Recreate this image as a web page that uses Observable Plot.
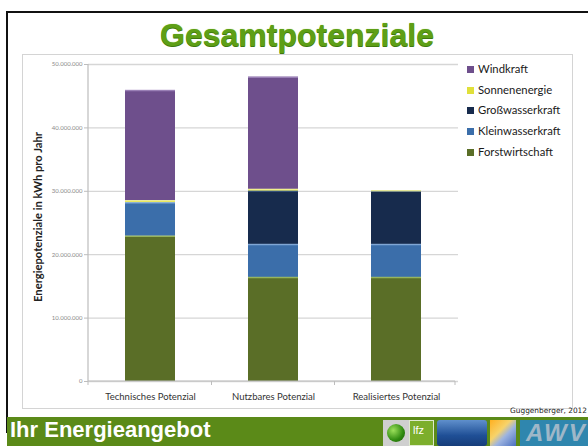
<!DOCTYPE html>
<html><head><meta charset="utf-8">
<script src="https://cdn.jsdelivr.net/npm/d3@7"></script>
<script src="https://cdn.jsdelivr.net/npm/@observablehq/plot@0.6"></script>
<style>
html,body{margin:0;padding:0;background:#fff;}
#slide{position:relative;width:588px;height:446px;overflow:hidden;background:#fff;font-family:Lato,"Open Sans",sans-serif;}
#frame{position:absolute;left:6px;top:11px;width:600px;height:420px;border-top:2px solid #111;border-left:2px solid #111;}
#box{position:absolute;left:22px;top:54px;width:549px;height:353px;border:1px solid #d4d4d4;}
#chart{position:absolute;left:0;top:0;}
#title{position:absolute;left:0;top:19px;width:594px;text-align:center;font:bold 32px "Liberation Sans",Arial,sans-serif;line-height:32px;color:#5e9f16;text-shadow:0 1px 0 #3f7a0c, 0 0 1px #8cc43c;}
#ylabel{position:absolute;left:-72px;top:210px;width:220px;height:14px;line-height:14px;text-align:center;font-weight:bold;font-size:11.2px;color:#222;transform:rotate(-90deg);}
#legend{position:absolute;left:467px;top:62px;}
.li{position:absolute;left:0;height:14px;width:120px;font-size:11.3px;line-height:14px;color:#1a1a1a;white-space:nowrap;}
.sw{display:inline-block;width:7px;height:7px;margin-right:4px;vertical-align:0px;}
#credit{position:absolute;right:1px;top:406px;font:7.4px "DejaVu Sans",sans-serif;color:#222;white-space:nowrap;text-align:right;}
#banner{position:absolute;left:7px;top:417px;width:581px;height:29px;background:#5b8a18;}
#btext{position:absolute;left:10px;top:419px;font:bold 22px "Liberation Sans",Arial,sans-serif;line-height:22px;color:#fff;}
.logo{position:absolute;top:420px;height:26px;}
</style></head><body>
<div id="slide">
  <div id="frame"></div>
  <div id="box"></div>
  <div id="chart"></div>
  <div id="title">Gesamtpotenziale</div>
  <div id="ylabel">Energiepotenziale in kWh pro Jahr</div>
  <div id="legend"></div>
  <div id="credit">Guggenberger, 2012</div>
  <div id="banner"></div>
  <div id="btext">Ihr Energieangebot</div>
  <div class="logo" style="left:383px;width:26px;background:#cfcfcf;"><div style="position:absolute;left:4px;top:4px;width:18px;height:18px;border-radius:50%;background:radial-gradient(circle at 35% 35%,#9be05a,#2f8a10 60%,#1d5a08);"></div></div>
  <div class="logo" style="left:409px;width:25px;background:#7cae2c;border:1px solid #dfe9cf;box-sizing:border-box;color:#fff;font:11px 'Liberation Sans',sans-serif;padding:3px 0 0 3px;">lfz</div>
  <div class="logo" style="left:437px;width:50px;border-radius:3px;background:linear-gradient(#5f8fcc,#1f4f96 60%,#173d7a);"></div>
  <div class="logo" style="left:490px;width:26px;background:linear-gradient(135deg,#ffb020,#f7d36a 40%,#9db4e0 60%,#4a6fc0);"></div>
  <div class="logo" style="left:520px;width:68px;background:#2f86ae;color:#9fb7c8;font:italic bold 24px 'Liberation Sans',sans-serif;line-height:26px;padding-left:6px;box-sizing:border-box;letter-spacing:2px;">AWV</div>
</div>
<script>
// ---- data ----
const categories = ["Technisches Potenzial", "Nutzbares Potenzial", "Realisiertes Potenzial"];
const seriesNames = ["Forstwirtschaft", "Kleinwasserkraft", "Großwasserkraft", "Sonnenenergie", "Windkraft"];
const forstwirtschaft = [22900000, 16400000, 16400000];
const kleinwasserkraft = [5300000, 5200000, 5200000];
const grosswasserkraft = [0, 8400000, 8400000];
const sonnenenergie = [300000, 300000, 100000];
const windkraft = [17400000, 17700000, 0];
const yTicks = [0, 10000000, 20000000, 30000000, 40000000, 50000000];
const seriesColors = ["#5a6e27", "#3b6eaa", "#172b4d", "#e0e03a", "#6e4f8c"];
const seriesHighlights = ["#a6c66a", "#8fb4e0", "#3b5a86", "#f5f5a0", "#a58cc0"];

const valuesBySeries = [forstwirtschaft, kleinwasserkraft, grosswasserkraft, sonnenenergie, windkraft];
const table = [];
seriesNames.forEach((s, si) => categories.forEach((c, ci) => {
  const v = valuesBySeries[si][ci];
  if (v > 0) table.push({category: c, series: s, value: v});
}));

const fmt = d => d3.format(",")(d).replace(/,/g, ".");

function axisLines(index, scales, values, dims) {
  const g = d3.create("svg:g");
  const y0 = scales.y(0), yTop = scales.y(yTicks[yTicks.length - 1]);
  const x0 = dims.marginLeft, x1 = dims.width - dims.marginRight;
  const bw = scales.x.bandwidth ? scales.x.bandwidth() : 0;
  const centers = categories.map(c => scales.x(c) + bw / 2);
  const bounds = [x0];
  for (let i = 0; i < centers.length - 1; i++) bounds.push((centers[i] + centers[i + 1]) / 2);
  bounds.push(x1 - 3);
  g.append("line").attr("x1", x0).attr("x2", x0).attr("y1", yTop).attr("y2", y0).attr("stroke", "#bdbdbd").attr("stroke-width", 1.2);
  g.append("line").attr("x1", x0).attr("x2", x1 - 3).attr("y1", y0).attr("y2", y0).attr("stroke", "#bdbdbd").attr("stroke-width", 1.2);
  bounds.forEach(b => g.append("line").attr("x1", b).attr("x2", b).attr("y1", y0).attr("y2", y0 + 4).attr("stroke", "#bdbdbd"));
  return g.node();
}

const chart = Plot.plot({
  width: 588,
  height: 446,
  marginLeft: 88,
  marginRight: 130,
  marginTop: 64,
  marginBottom: 65,
  style: {background: "transparent", fontFamily: "Lato, 'Open Sans', sans-serif"},
  x: {domain: categories, paddingInner: 0.595, paddingOuter: 0.2975, label: null},
  y: {domain: [0, 50000000], ticks: yTicks, label: null},
  color: {domain: seriesNames, range: seriesColors},
  marks: [
    Plot.gridY(yTicks, {stroke: "#d6d6d6", strokeOpacity: 1, strokeWidth: 1.3, x1: null}),
    Plot.axisY(yTicks, {tickFormat: fmt, tickSize: 4, tickPadding: 2, fontSize: 6, color: "#8a8a8a", stroke: "#bdbdbd", label: null}),
    Plot.axisX({tickSize: 0, tickPadding: 12, fontSize: 9.5, color: "#333", label: null}),
    Plot.barY(table, Plot.stackY({x: "category", y: "value", z: "series", order: seriesNames, fill: "series"})),
    Plot.tickY(table, Plot.stackY2({x: "category", y: "value", z: "series", order: seriesNames,
      stroke: d => seriesHighlights[seriesNames.indexOf(d.series)], strokeWidth: 1.5, strokeOpacity: 0.8})),
    axisLines
  ]
});
document.getElementById("chart").appendChild(chart);

// legend (top to bottom: reverse stack order)
const legend = document.getElementById("legend");
seriesNames.slice().reverse().forEach((s, i) => {
  const idx = seriesNames.indexOf(s);
  const div = document.createElement("div");
  div.className = "li";
  div.style.top = (i * 20.7) + "px";
  const sw = document.createElement("span");
  sw.className = "sw";
  sw.style.background = seriesColors[idx];
  div.appendChild(sw);
  div.appendChild(document.createTextNode(s));
  legend.appendChild(div);
});
</script>
</body></html>
